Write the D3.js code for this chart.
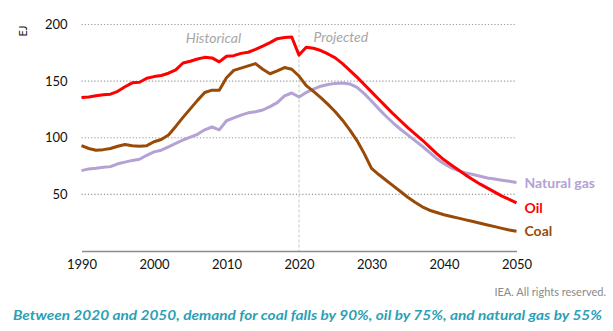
<!DOCTYPE html>
<html>
<head>
<meta charset="utf-8">
<script src="https://cdn.jsdelivr.net/npm/d3@7"></script>
<style>
  body { margin: 0; background: #fff; }
  svg { display: block; font-family: Lato, "Open Sans", sans-serif; }
</style>
</head>
<body>
<div id="chart"></div>
<script>
// years 1990..2050, historical to 2020 then projected
var years = d3.range(1990, 2051);

var oil = [135.5,136,137,138,138.5, 141,145,148.5,149,152.5, 154,155,157,160,166,
  167.5,169.5,171,170.5,167, 172,172.5,174.5,175.5,178, 181,184,187.5,188.5,189, 173,
  180,179,177,174,170.5, 165.5,159.5,153.5,147,140.5, 134,127.5,121,115,109,
  103.5,98,92,86,80.5, 76,71.5,67,63,59, 55.5,52,48.5,45.5,42.5];

var coal = [93,90.5,89,89.5,90.5, 92.5,94,93,92.5,93, 96.5,98.5,102.5,110,118,
  125.5,133,140,142,142, 153,159.5,161.5,163.5,165.5, 160.5,156.5,159,162,160.5, 154.5,
  146,141,135.5,129.5,123, 115.5,107,97.5,86,73, 67.5,62.5,57.5,52.5,47.5,
  43,39,36,34,32, 30.5,29,27.5,26,24.5, 23,21.5,20,18.5,17.5];

var gas = [71,72.5,73,74,74.5, 77,78.5,80,81,84.5, 87.5,89,92,95,98,
  100.5,103,107,109.5,107, 115,117.5,120,122,123, 124.5,127.5,131,137,139.5, 136,
  140,143,145.5,147,148, 148.3,147.5,144.5,139,132.5, 125.5,119,113,107.5,102.5,
  97.5,92.5,87,81.5,77, 73.5,71,69,67.5,66, 64.5,63.5,62.5,61.5,60.5];

var seriesNames = ["Natural gas", "Oil", "Coal"];
var xTicks = [1990, 2000, 2010, 2020, 2030, 2040, 2050];
var yTicks = [50, 100, 150, 200];

var colors = { "Natural gas": "#b3a2d3", "Oil": "#ff0000", "Coal": "#994a07" };
var values = { "Natural gas": gas, "Oil": oil, "Coal": coal };
var labelShift = { "Natural gas": 1, "Oil": 5, "Coal": 0 };

var W = 613, H = 331;
var margin = {top: 24.5, right: 96.5, bottom: 80, left: 81.5},
    width = W - margin.left - margin.right,
    height = H - margin.top - margin.bottom;

var svg = d3.select("#chart").append("svg")
    .attr("width", W).attr("height", H)
  .append("g")
    .attr("transform", "translate(" + margin.left + "," + margin.top + ")");

var x = d3.scaleLinear().domain([1990, 2050]).range([0, width]);
var y = d3.scaleLinear().domain([0, 200]).range([height, 0]);

// dotted gridlines
svg.append("g")
  .selectAll("line").data(yTicks).enter().append("line")
    .attr("x1", 0).attr("x2", width)
    .attr("y1", d => y(d)).attr("y2", d => y(d))
    .attr("stroke", "#9a9a9a").attr("stroke-width", 1.2)
    .attr("stroke-dasharray", "1.2,2");

// projection divider
svg.append("line")
  .attr("x1", x(2020)).attr("x2", x(2020))
  .attr("y1", y(200)).attr("y2", height)
  .attr("stroke", "#c8c8c8").attr("stroke-width", 1)
  .attr("stroke-dasharray", "3,2");

// x axis
var xAxis = svg.append("g")
  .attr("transform", "translate(0," + height + ")")
  .call(d3.axisBottom(x).tickValues(xTicks).tickFormat(d3.format("d")).tickSize(0).tickPadding(9));
xAxis.select(".domain").attr("stroke", "#8c8c8c").attr("stroke-width", 1.5);
xAxis.selectAll("text").attr("font-size", 13).attr("fill", "#111").style("font-family", "Lato, sans-serif");

// y axis
var yAxis = svg.append("g")
  .call(d3.axisLeft(y).tickValues(yTicks).tickSize(0).tickPadding(14));
yAxis.select(".domain").remove();
yAxis.selectAll("text").attr("font-size", 13).attr("fill", "#111").style("font-family", "Lato, sans-serif");

svg.append("text")
  .attr("transform", "translate(" + (23 - margin.left) + "," + (31 - margin.top) + ") rotate(-90)")
  .attr("text-anchor", "middle").attr("dy", "0.35em")
  .attr("font-size", 11).attr("fill", "#111")
  .text("EJ");

// lines
var line = d3.line()
  .x((d, i) => x(years[i]))
  .y(d => y(d));

seriesNames.forEach(function(name) {
  svg.append("path")
    .datum(values[name])
    .attr("fill", "none")
    .attr("stroke", colors[name])
    .attr("stroke-width", 3)
    .attr("stroke-linejoin", "round")
    .attr("d", line);

  var v = values[name];
  svg.append("text")
    .attr("x", width + 8)
    .attr("y", y(v[v.length - 1]) + labelShift[name])
    .attr("dy", "0.35em")
    .attr("font-size", 14).attr("font-weight", "bold")
    .attr("fill", colors[name])
    .text(name);
});

// period labels
svg.append("text")
  .attr("x", x(2008.2)).attr("y", 38 - margin.top).attr("dy", "0.35em")
  .attr("text-anchor", "middle")
  .attr("font-size", 14).attr("font-style", "italic").attr("fill", "#a6a6a6")
  .text("Historical");
svg.append("text")
  .attr("x", x(2022)).attr("y", 37 - margin.top).attr("dy", "0.35em")
  .attr("font-size", 14).attr("font-style", "italic").attr("fill", "#a6a6a6")
  .text("Projected");

// footer
svg.append("text")
  .attr("x", 606 - margin.left).attr("y", 292 - margin.top).attr("dy", "0.35em")
  .attr("text-anchor", "end")
  .attr("font-size", 11).attr("fill", "#8a8a8a")
  .text("IEA. All rights reserved.");

svg.append("text")
  .attr("x", 13 - margin.left).attr("y", 315 - margin.top).attr("dy", "0.35em")
  .attr("font-size", 14).attr("font-weight", "bold").attr("font-style", "italic")
  .attr("fill", "#2c9fb6")
  .attr("textLength", 589).attr("lengthAdjust", "spacingAndGlyphs")
  .text("Between 2020 and 2050, demand for coal falls by 90%, oil by 75%, and natural gas by 55%");
</script>
</body>
</html>
